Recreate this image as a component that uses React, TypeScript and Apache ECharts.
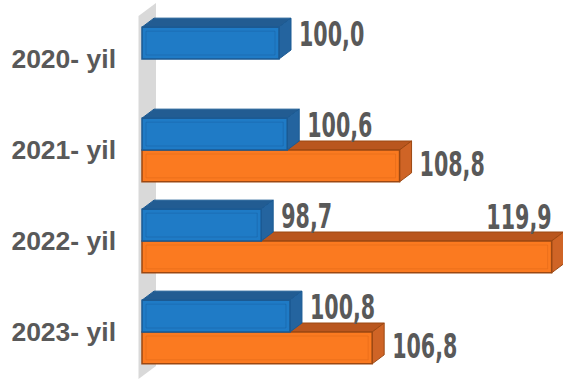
import React, { useEffect, useRef } from "react";
import * as echarts from "echarts";

const categories = ["2020- yil", "2021- yil", "2022- yil", "2023- yil"];
const seriesBlue: (number | null)[] = [100.0, 100.6, 98.7, 100.8];
const seriesOrange: (number | null)[] = [null, 108.8, 119.9, 106.8];
const xMin = 90;
const xMax = 120;

const BLUE = { front: "#1f7bc6", top: "#225c92", side: "#24649f", edge: "#1b5a93", bevel: "rgba(20,80,140,0.3)" };
const ORANGE = { front: "#fb7a20", top: "#b9561e", side: "#cf6426", edge: "#9c4812", bevel: "rgba(210,95,20,0.35)" };
const TEXT = "#595959";
const DX = 12;
const DY = -9;
const LABEL_FONT = 'bold 31px "DejaVu Sans Condensed", "DejaVu Sans", sans-serif';

function fmt(v: number) {
  return v.toFixed(1).replace(".", ",");
}

function makeRender(isBlue: boolean) {
  const c = isBlue ? BLUE : ORANGE;
  return (params: any, api: any) => {
    const v = api.value(0);
    const cat = api.value(1);
    if (v == null || isNaN(v)) return null;
    const [x0, cy] = api.coord([xMin, cat]);
    const [x1] = api.coord([v, cat]);
    const band = api.size([0, 1])[1];
    const h = band * 0.35;
    const top = isBlue ? cy - h : cy;
    const bottom = top + h;
    const w = x1 - x0;
    const labelW = 64;
    const gap = 8;
    const fits = x1 + DX + gap + labelW < api.getWidth();
    const common = { scaleX: 0.74, scaleY: 1.1 };
    const labelEl = fits
      ? {
          type: "text",
          x: x1 + DX + gap,
          y: top + (isBlue ? 7 : 14),
          ...common,
          style: { text: fmt(v), x: 0, y: 0, fill: TEXT, font: LABEL_FONT, align: "left", verticalAlign: "middle" },
        }
      : {
          type: "text",
          x: x1,
          y: top - 24,
          ...common,
          style: { text: fmt(v), x: 0, y: 0, fill: TEXT, font: LABEL_FONT, align: "right", verticalAlign: "middle" },
        };
    return {
      type: "group",
      children: [
        {
          type: "polygon",
          shape: { points: [[x0, top], [x0 + DX, top + DY], [x1 + DX, top + DY], [x1, top]] },
          style: { fill: c.top, stroke: c.edge, lineWidth: 1 },
        },
        {
          type: "polygon",
          shape: { points: [[x1, top], [x1 + DX, top + DY], [x1 + DX, bottom + DY], [x1, bottom]] },
          style: { fill: c.side, stroke: c.edge, lineWidth: 1 },
        },
        {
          type: "rect",
          shape: { x: x0, y: top, width: w, height: h },
          style: { fill: c.front, stroke: c.edge, lineWidth: 1.5 },
        },
        {
          type: "rect",
          shape: { x: x0 + 4, y: top + 4, width: Math.max(0, w - 8), height: h - 8 },
          style: { fill: "none", stroke: c.bevel, lineWidth: 1 },
        },
        labelEl,
      ],
    };
  };
}

export default function App() {
  const ref = useRef<HTMLDivElement>(null);
  useEffect(() => {
    if (!ref.current) return;
    const chart = echarts.init(ref.current, undefined, { renderer: "svg" });
    const toData = (arr: (number | null)[]) => arr.map((v, i) => [v == null ? "-" : v, i]);
    chart.setOption({
      animation: false,
      backgroundColor: "#ffffff",
      grid: { left: 142, right: 10, top: 13.5, bottom: 1.5, containLabel: false },
      xAxis: { type: "value", min: xMin, max: xMax, show: false },
      yAxis: {
        type: "category",
        data: categories,
        inverse: true,
        axisLine: { show: false },
        axisTick: { show: false },
        splitLine: { show: false },
        axisLabel: {
          margin: 26,
          color: TEXT,
          fontSize: 26.5,
          fontWeight: "bold",
          fontFamily: '"Liberation Sans", Arial, sans-serif',
          padding: [6, 0, 0, 0],
        },
      },
      graphic: [
        {
          type: "polygon",
          z: 0,
          shape: { points: [[138.5, 16], [156, 3], [156, 366], [138.5, 379]] },
          style: { fill: "#d9d9d9" },
        },
      ],
      series: [
        {
          type: "custom",
          name: "orange",
          z: 2,
          encode: { x: 0, y: 1 },
          data: toData(seriesOrange),
          renderItem: makeRender(false),
        },
        {
          type: "custom",
          name: "blue",
          z: 3,
          encode: { x: 0, y: 1 },
          data: toData(seriesBlue),
          renderItem: makeRender(true),
        },
      ],
    });
    return () => chart.dispose();
  }, []);
  return <div ref={ref} style={{ position: "fixed", left: 0, top: 0, width: 563, height: 379 }} />;
}
